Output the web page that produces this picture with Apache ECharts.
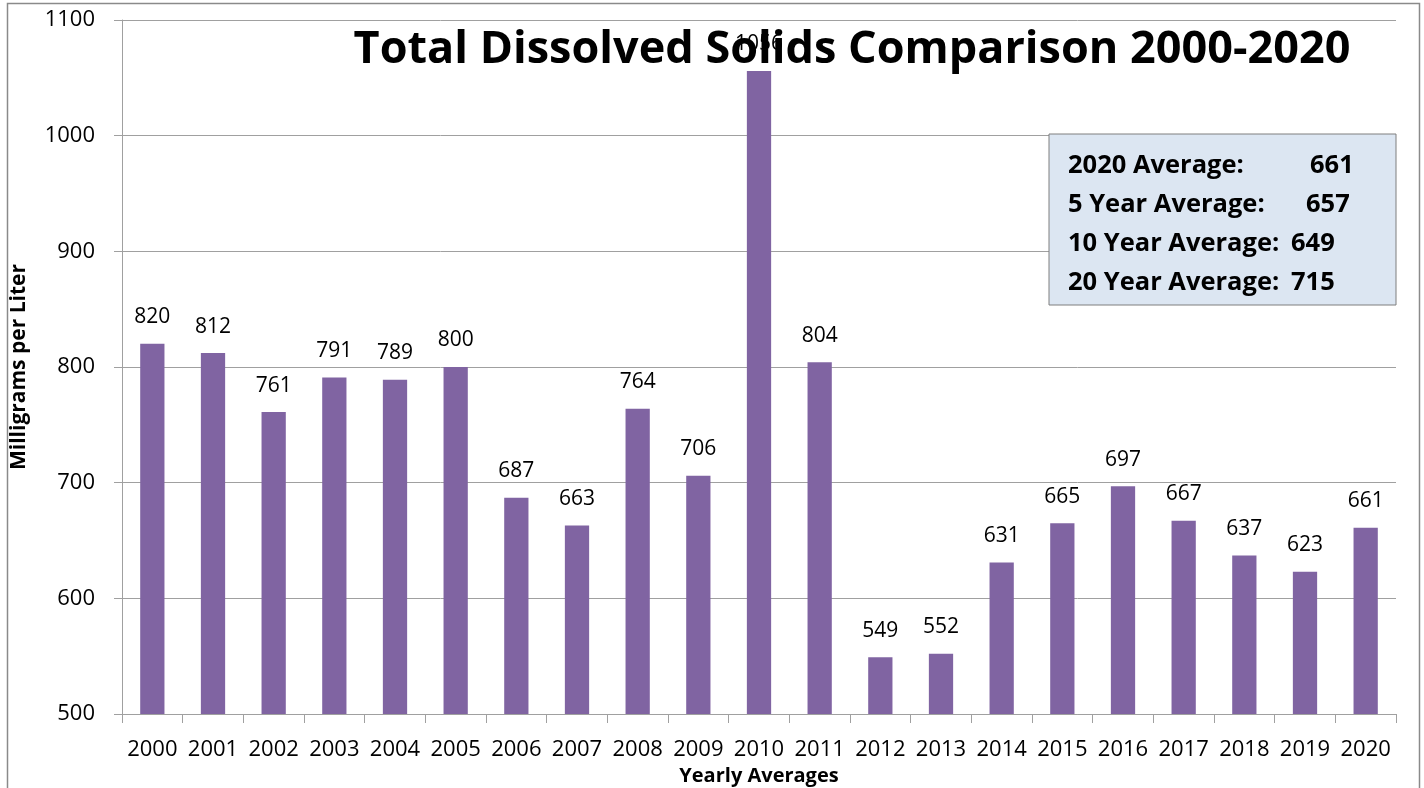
<!DOCTYPE html>
<html>
<head>
<meta charset="utf-8">
<script src="https://cdn.jsdelivr.net/npm/echarts@6/dist/echarts.min.js"></script>
<style>
  html, body { margin: 0; padding: 0; background: #ffffff; overflow: hidden; }
  #chart { width: 1424px; height: 788px; }
</style>
</head>
<body>
<div id="chart"></div>
<script>
// Yearly average total dissolved solids (mg/L)
const years = ['2000','2001','2002','2003','2004','2005','2006','2007','2008','2009','2010',
               '2011','2012','2013','2014','2015','2016','2017','2018','2019','2020'];
const tdsValues = [820, 812, 761, 791, 789, 800, 687, 663, 764, 706, 1056,
                   804, 549, 552, 631, 665, 697, 667, 637, 623, 661];

// Summary box contents
const averageLabels = ['2020 Average:', '5 Year Average:', '10 Year Average:', '20 Year Average:'];
const averageValues = [661, 657, 649, 715];
const averageValueX = [1310, 1306, 1291, 1291];

const FONT = '"Open Sans", "Noto Sans", sans-serif';
const chart = echarts.init(document.getElementById('chart'));

const boxLeft = 1049, boxTop = 134, lineStep = 39;
const boxElements = [{
  type: 'rect',
  shape: { x: boxLeft, y: boxTop, width: 347, height: 171 },
  style: { fill: '#dce6f2', stroke: '#7f7f7f', lineWidth: 1 },
  z: 100
}];
averageLabels.forEach((label, i) => {
  const cy = boxTop + 32 + i * lineStep;
  boxElements.push({
    type: 'text', z: 101,
    style: { text: label, x: 1068, y: cy, font: 'bold 25.5px ' + FONT, fill: '#000', textVerticalAlign: 'middle' }
  });
  boxElements.push({
    type: 'text', z: 101,
    style: { text: String(averageValues[i]), x: averageValueX[i], y: cy, font: 'bold 25.5px ' + FONT, fill: '#000', textVerticalAlign: 'middle' }
  });
});

chart.setOption({
  animation: false,
  backgroundColor: '#ffffff',
  grid: { left: 122, width: 1274, top: 20, height: 694, containLabel: false, outerBoundsMode: 'none' },
  xAxis: {
    type: 'category',
    data: years,
    name: 'Yearly Averages',
    nameLocation: 'middle',
    nameGap: 48,
    nameTextStyle: { fontFamily: FONT, fontWeight: 'bold', fontSize: 20, color: '#000' },
    axisLine: { show: true, lineStyle: { color: '#a0a0a0', width: 1 } },
    axisTick: { show: true, length: 9, interval: 0, lineStyle: { color: '#a0a0a0' } },
    axisLabel: { interval: 0, margin: 25, fontFamily: FONT, fontSize: 22, color: '#000' }
  },
  yAxis: {
    type: 'value',
    min: 500,
    max: 1100,
    interval: 100,
    name: 'Milligrams per Liter',
    nameLocation: 'middle',
    nameGap: 92,
    nameTextStyle: { fontFamily: FONT, fontWeight: 'bold', fontSize: 21, color: '#000' },
    axisLine: { show: true, lineStyle: { color: '#a0a0a0', width: 1 } },
    axisTick: { show: true, inside: false, length: 8, lineStyle: { color: '#a0a0a0' } },
    axisLabel: { margin: 27, fontFamily: FONT, fontSize: 22, color: '#000', formatter: v => String(v) },
    splitLine: { show: true, lineStyle: { color: '#a0a0a0', width: 1 } }
  },
  series: [{
    type: 'bar',
    data: tdsValues,
    barWidth: '40%',
    itemStyle: { color: '#8064a2' },
    label: {
      show: true,
      position: 'top',
      distance: 16,
      fontFamily: FONT,
      fontSize: 21,
      color: '#000'
    },
    z: 2
  }],
  graphic: [
    {
      type: 'rect',
      shape: { x: 7.5, y: 3.5, width: 1412, height: 820 },
      style: { fill: null, stroke: '#8a8a8a', lineWidth: 1.5 },
      silent: true, z: 0
    },
    {
      type: 'text',
      style: {
        text: 'Total Dissolved Solids Comparison 2000-2020',
        x: 852, y: 50,
        font: 'bold 45px ' + FONT,
        fill: '#000',
        textAlign: 'center',
        textVerticalAlign: 'middle'
      },
      z: 100
    }
  ].concat(boxElements)
});
</script>
</body>
</html>
